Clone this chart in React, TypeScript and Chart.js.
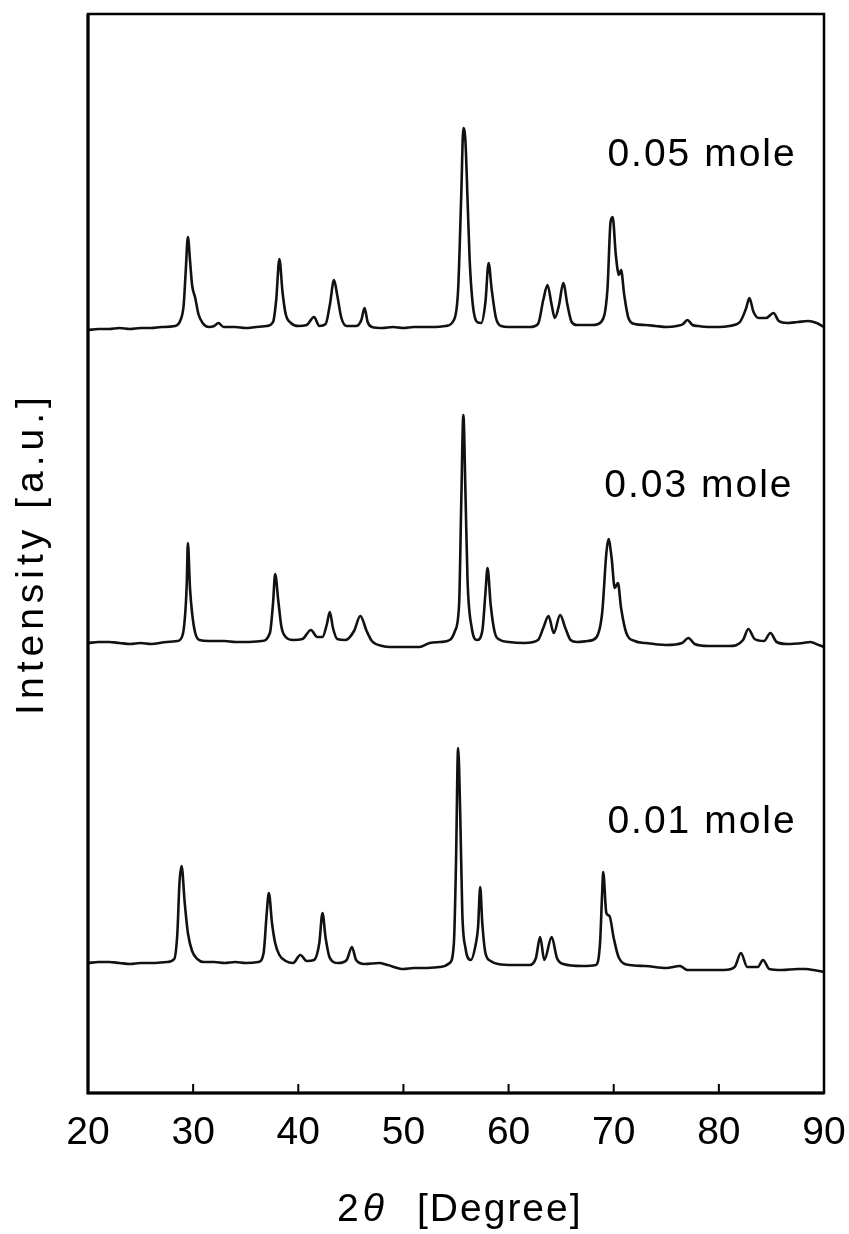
import React, { useEffect, useRef } from "react";
import { Chart, registerables } from "chart.js";

Chart.register(...registerables);

// ---- data (2θ in degrees, intensity in arbitrary units above each trace's own baseline) ----
const xTickValues = [20, 30, 40, 50, 60, 70, 80, 90];
const seriesNames = ["0.05 mole", "0.03 mole", "0.01 mole"];
const seriesOffsets = [763, 450, 130];
const nameAnchorTheta = [69.4, 69.1, 69.4];
const nameAnchorLevel = [927, 596, 260];

const xrd005: [number, number][] = [
  [20, 0], [21, 1], [22, 1], [23, 2], [24, 1], [25, 2], [26, 2], [27, 3], [28.3, 4], [28.8, 10],
  [29.1, 25], [29.3, 60], [29.5, 93], [29.7, 70], [29.9, 45], [30.2, 32], [30.5, 16], [30.9, 7],
  [31.5, 3], [32.0, 4], [32.4, 7], [32.9, 3], [34, 3], [35, 2], [36, 3], [37, 4], [37.6, 8],
  [37.9, 30], [38.2, 71], [38.5, 38], [38.8, 16], [39.3, 7], [40, 4], [40.8, 5], [41.5, 13],
  [42.0, 4], [42.6, 6], [43.0, 25], [43.4, 50], [43.7, 35], [44.1, 12], [44.6, 4], [45.5, 4],
  [46.0, 10], [46.3, 22], [46.6, 8], [47.0, 3], [48, 2], [49, 3], [50, 2], [51, 3], [52, 3],
  [53, 3], [54, 4], [54.8, 10], [55.2, 40], [55.5, 135], [55.7, 202], [55.9, 188], [56.1, 130],
  [56.3, 70], [56.6, 25], [57.0, 8], [57.4, 7], [57.8, 28], [58.1, 67], [58.4, 40], [58.8, 12],
  [59.3, 4], [60, 3], [61, 3], [62, 3], [62.8, 6], [63.3, 30], [63.7, 45], [64.1, 25], [64.4, 12],
  [64.8, 25], [65.2, 47], [65.6, 25], [66.0, 8], [66.5, 5], [67, 5], [68, 5], [68.8, 8],
  [69.4, 40], [69.7, 108], [69.9, 113], [70.2, 75], [70.5, 55], [70.7, 60], [71.0, 35], [71.4, 12],
  [72, 6], [73, 5], [74, 4], [75, 3], [76, 4], [76.6, 6], [77.0, 10], [77.5, 5], [78, 4], [79, 3],
  [80, 3], [81, 4], [82, 8], [82.6, 22], [82.9, 32], [83.3, 18], [83.8, 12], [84.5, 12],
  [85.2, 17], [85.7, 9], [86.5, 7], [87.5, 8], [88.5, 9], [89.3, 7], [90, 3],
];

const xrd003: [number, number][] = [
  [20, 0], [21, 1], [22, 1], [23, 0], [24, -1], [25, 0], [26, -1], [27.5, 1], [28.5, 2], [29.0, 8],
  [29.3, 38], [29.4, 62], [29.5, 100], [29.7, 55], [29.9, 30], [30.2, 10], [30.6, 3], [31.5, 2],
  [33, 2], [34, 1], [35, 1], [36.5, 2], [37.3, 10], [37.6, 40], [37.8, 69], [38.1, 42], [38.4, 16],
  [38.8, 6], [39.5, 3], [40.4, 4], [41.2, 13], [41.8, 6], [42.3, 6], [42.7, 18], [43.0, 31],
  [43.3, 15], [43.7, 4], [44.5, 3], [45.3, 12], [45.9, 27], [46.5, 12], [47.0, 2], [48, -3],
  [49, -4], [50, -4], [51.5, -4], [52.5, 0], [53.5, 1], [54.4, 3], [54.9, 12], [55.3, 40],
  [55.5, 140], [55.7, 228], [55.9, 150], [56.1, 62], [56.5, 15], [57.0, 3], [57.5, 12], [57.8, 50],
  [58.0, 75], [58.3, 38], [58.7, 10], [59.2, 3], [60, 1], [61.5, 0], [62.8, 3], [63.3, 15],
  [63.8, 27], [64.3, 10], [64.9, 28], [65.4, 15], [65.9, 3], [66.5, 1], [67.5, 2], [68.3, 5],
  [68.9, 30], [69.3, 90], [69.5, 104], [69.8, 85], [70.1, 55], [70.4, 60], [70.7, 35], [71.2, 10],
  [72, 2], [73, 0], [75, -2], [76.5, 0], [77.1, 5], [77.7, -1], [79, -3], [81, -3], [82.3, 3],
  [82.8, 14], [83.4, 4], [84.3, 2], [84.9, 10], [85.5, 1], [86.5, -1], [88, 0], [88.7, 1],
  [89.5, -2], [90, -4],
];

const xrd001: [number, number][] = [
  [20, 0], [21, 1], [22, 1], [23, 0], [24, -1], [25, 0], [26, 0], [27.5, 1], [28.2, 4], [28.5, 30],
  [28.7, 80], [28.9, 97], [29.2, 60], [29.5, 30], [29.9, 12], [30.4, 4], [31, 1], [32, 1], [33, 0],
  [34, 1], [35, 0], [36.2, 1], [36.7, 10], [37.0, 50], [37.2, 70], [37.5, 40], [37.8, 20],
  [38.2, 8], [38.8, 2], [39.5, 0], [40.2, 8], [40.8, 2], [41.5, 3], [42.0, 20], [42.3, 50],
  [42.6, 25], [43.0, 5], [43.8, 0], [44.6, 3], [45.1, 16], [45.5, 3], [46.3, -1], [47.7, 0],
  [48.5, -2], [50, -6], [51, -5], [52, -5], [53.5, -4], [54.4, 0], [54.8, 20], [55.0, 100],
  [55.2, 215], [55.4, 150], [55.6, 50], [55.9, 15], [56.4, 3], [56.9, 20], [57.1, 36], [57.3, 76],
  [57.5, 40], [57.8, 10], [58.3, 2], [59, -1], [60.5, -2], [62, -2], [62.6, 5], [63.0, 26],
  [63.4, 3], [64.1, 26], [64.6, 5], [65.2, -1], [67, -3], [68.3, -2], [68.7, 20], [68.9, 70],
  [69.0, 91], [69.3, 50], [69.6, 47], [70.0, 25], [70.5, 5], [71.5, -2], [73, -3], [75, -5],
  [76.3, -3], [77, -7], [79, -7], [80.5, -7], [81.5, -4], [82.1, 10], [82.7, -4], [83.7, -4],
  [84.2, 3], [84.8, -6], [86, -7], [87.5, -6], [88.3, -6], [89, -7], [90, -9],
];

const seriesData = [xrd005, xrd003, xrd001];

const FONT = '"Liberation Sans", Arial, sans-serif';

const decorPlugin = {
  id: "decor",
  afterDatasetsDraw(chart: any) {
    const { ctx, chartArea: a, scales } = chart;
    const xs = scales.x;
    const ys = scales.y;
    ctx.save();
    ctx.strokeStyle = "#000";
    ctx.fillStyle = "#000";
    // frame
    ctx.lineWidth = 2.5;
    ctx.strokeRect(a.left, a.top, a.right - a.left, a.bottom - a.top);
    ctx.lineWidth = 3;
    ctx.beginPath();
    ctx.moveTo(a.left, a.top);
    ctx.lineTo(a.left, a.bottom);
    ctx.lineTo(a.right, a.bottom);
    ctx.stroke();
    // inner tick marks on the bottom axis
    ctx.lineWidth = 2;
    xTickValues.forEach((v) => {
      const px = xs.getPixelForValue(v);
      ctx.beginPath();
      ctx.moveTo(px, a.bottom);
      ctx.lineTo(px, a.bottom - 9);
      ctx.stroke();
    });
    // series names
    ctx.font = `39px ${FONT}`;
    (ctx as any).letterSpacing = "2px";
    ctx.textAlign = "left";
    ctx.textBaseline = "alphabetic";
    seriesNames.forEach((name, i) => {
      ctx.fillText(name, xs.getPixelForValue(nameAnchorTheta[i]), ys.getPixelForValue(nameAnchorLevel[i]));
    });
    // x title: 2θ [Degree]
    const cx = (a.left + a.right) / 2;
    const by = a.bottom + 128;
    (ctx as any).letterSpacing = "2px";
    ctx.font = `39px ${FONT}`;
    let x0 = cx - 119;
    ctx.fillText("2", x0, by);
    x0 += ctx.measureText("2").width + 2;
    ctx.font = `italic 39px ${FONT}`;
    ctx.fillText("θ", x0, by);
    ctx.font = `39px ${FONT}`;
    ctx.fillText("[Degree]", cx - 39, by);
    // y title
    ctx.save();
    ctx.translate(43, (a.top + a.bottom) / 2);
    ctx.rotate(-Math.PI / 2);
    (ctx as any).letterSpacing = "5px";
    ctx.textAlign = "center";
    ctx.font = `39px ${FONT}`;
    ctx.fillText("Intensity [a.u.]", 0, 0);
    ctx.restore();
    ctx.restore();
  },
};

export default function App() {
  const ref = useRef<HTMLCanvasElement | null>(null);

  useEffect(() => {
    if (!ref.current) return;
    const chart = new Chart(ref.current, {
      type: "line",
      data: {
        datasets: seriesData.map((pts, i) => ({
          label: seriesNames[i],
          data: pts.map(([t, v]) => ({ x: t, y: v + seriesOffsets[i] })),
          borderColor: "#111",
          borderWidth: 2.6,
          pointRadius: 0,
          fill: false,
          cubicInterpolationMode: "monotone" as const,
        })),
      },
      options: {
        responsive: false,
        animation: false,
        devicePixelRatio: 1,
        layout: { padding: { top: 14, left: 88, right: 25, bottom: 0 } },
        plugins: { legend: { display: false }, tooltip: { enabled: false }, title: { display: false } },
        scales: {
          x: {
            type: "linear",
            min: 20,
            max: 90,
            afterBuildTicks: (s: any) => {
              s.ticks = xTickValues.map((v) => ({ value: v }));
            },
            afterFit: (s: any) => {
              s.height = 141;
              s.paddingLeft = 0;
              s.paddingRight = 0;
            },
            grid: { display: false, drawTicks: false },
            border: { display: false },
            ticks: {
              color: "#000",
              padding: 17,
              maxRotation: 0,
              autoSkip: false,
              font: { family: FONT, size: 39 },
              callback: (v: any) => String(v),
            },
          },
          y: { display: false, min: 0, max: 1079 },
        },
      },
      plugins: [decorPlugin],
    });
    return () => chart.destroy();
  }, []);

  return (
    <div style={{ position: "absolute", left: 0, top: 0, width: 849, height: 1234, background: "#fff" }}>
      <canvas ref={ref} width={849} height={1234} style={{ display: "block" }} />
    </div>
  );
}
